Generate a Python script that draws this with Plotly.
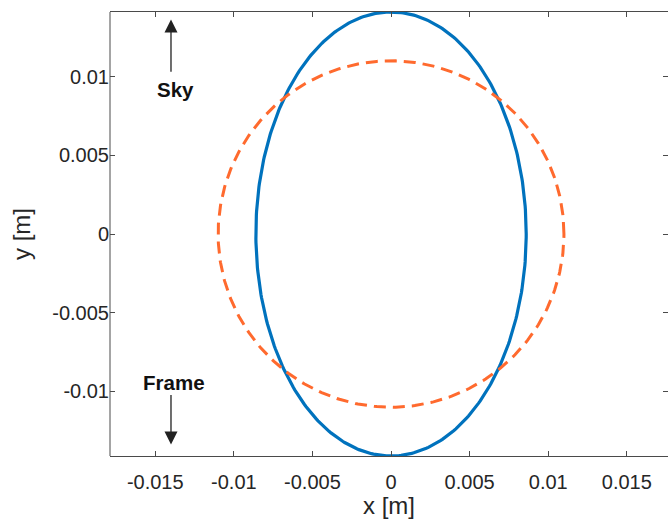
import numpy as np
import plotly.graph_objects as go

# Shape parameters
ellipse_a = 0.0086   # x semi-axis of blue curve [m]
ellipse_b = 0.0141   # y semi-axis of blue curve [m]
circle_r = 0.011     # radius of dashed circle [m]

x_ticks = [-0.015, -0.01, -0.005, 0, 0.005, 0.01, 0.015]
x_tick_labels = ["-0.015", "-0.01", "-0.005", "0", "0.005", "0.01", "0.015"]
y_ticks = [-0.01, -0.005, 0, 0.005, 0.01]
y_tick_labels = ["-0.01", "-0.005", "0", "0.005", "0.01"]

sky_arrow = dict(x=-0.014, y_tail=0.01021, y_head=0.01362)
frame_arrow = dict(x=-0.014, y_tail=-0.01013, y_head=-0.01337)

t = np.linspace(0, 2 * np.pi, 400)
ex = ellipse_a * np.cos(t)
ey = ellipse_b * np.sin(t)
cx = circle_r * np.cos(t)
cy = circle_r * np.sin(t)

fig = go.Figure()
fig.add_trace(go.Scatter(x=ex, y=ey, mode="lines",
                         line=dict(color="#0072BD", width=3.2), hoverinfo="skip"))
fig.add_trace(go.Scatter(x=cx, y=cy, mode="lines",
                         line=dict(color="#FF6A2E", width=3, dash="12px,7px"), hoverinfo="skip"))

font = dict(family="Liberation Sans, Arial, sans-serif", size=20, color="#262626")
bold_font = dict(family="Liberation Sans, Arial, sans-serif", size=20.5, color="#111111")

for arr in (sky_arrow, frame_arrow):
    fig.add_annotation(x=arr["x"], y=arr["y_head"], ax=arr["x"], ay=arr["y_tail"],
                       xref="x", yref="y", axref="x", ayref="y", text="", showarrow=True,
                       arrowhead=2, arrowsize=2.0, arrowwidth=1.3, arrowcolor="#222222")
fig.add_annotation(x=-0.01369, y=0.00917, xref="x", yref="y", text="<b>Sky</b>", showarrow=False,
                   font=bold_font)
fig.add_annotation(x=-0.0138, y=-0.00941, xref="x", yref="y", text="<b>Frame</b>", showarrow=False,
                   font=bold_font)

# left spine (y-axis line hidden so that the right side shows tick stubs only)
fig.add_shape(type="line", xref="paper", yref="paper", x0=0, x1=0, y0=0, y1=1,
              line=dict(color="#4a4a4a", width=1), layer="above")

fig.update_layout(
    width=670, height=519,
    margin=dict(l=110, r=2, t=12, b=63),
    paper_bgcolor="white", plot_bgcolor="white",
    showlegend=False,
    font=font,
)
fig.update_xaxes(range=[-0.01788, 0.01762], tickvals=x_ticks, ticktext=x_tick_labels,
                 showgrid=False, zeroline=False, showline=True, linecolor="#4a4a4a", linewidth=1,
                 mirror="ticks", ticks="inside", ticklen=5, tickcolor="#4a4a4a",
                 ticklabelstandoff=8, automargin=False,
                 title=dict(text="x [m]", standoff=16), tickfont=font)
fig.update_yaxes(range=[-0.0141, 0.0141], tickvals=y_ticks, ticktext=y_tick_labels,
                 showgrid=False, zeroline=False, showline=False, linecolor="#4a4a4a", linewidth=1,
                 mirror="ticks", ticks="inside", ticklen=5, tickcolor="#4a4a4a",
                 automargin=False,
                 title=dict(text="y [m]", standoff=14), tickfont=font)

fig.write_html("out.html")
